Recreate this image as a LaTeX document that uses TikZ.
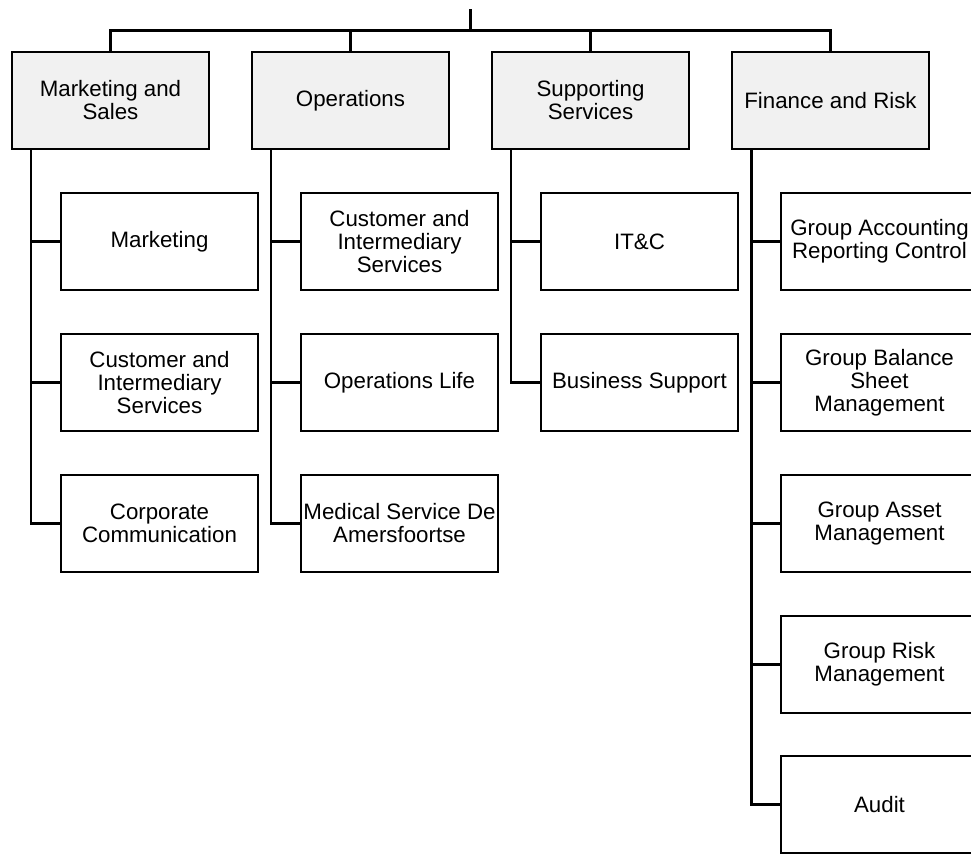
\documentclass[tikz,border=0pt]{standalone}
\usepackage{fontspec}
\setmainfont{Liberation Sans}
\definecolor{headfill}{HTML}{F1F1F1}
\begin{document}
\begin{tikzpicture}[x=1pt,y=-1pt,
  box/.style={draw=black,line width=2.3pt,rectangle,minimum width=197pt,minimum height=97pt,
    inner sep=0pt,align=center,font=\fontsize{22.3}{23}\selectfont},
  headbox/.style={box,fill=headfill},
  link/.style={draw=black,line width=2.3pt}]
\useasboundingbox (0,0) rectangle (971,855);
% top level
\node[headbox] (ms)  at (110.5,100.5) {Marketing and\\Sales};
\node[headbox] (ops) at (350.5,100.5) {Operations};
\node[headbox] (sup) at (590.5,100.5) {Supporting\\Services};
\node[headbox] (fr)  at (830.5,100.5) {Finance and Risk};
% marketing children
\node[box] (mk)  at (159.5,241.5) {Marketing};
\node[box] (mci) at (159.5,382.5) {Customer and\\Intermediary\\Services};
\node[box] (mcc) at (159.5,523.5) {Corporate\\Communication};
% operations children
\node[box] (oci) at (399.5,241.5) {Customer and\\Intermediary\\Services};
\node[box] (ol)  at (399.5,382.5) {Operations Life};
\node[box] (om)  at (399.5,523.5) {Medical Service De\\Amersfoortse};
% supporting children
\node[box] (it)  at (639.5,241.5) {IT\&C};
\node[box] (bs)  at (639.5,382.5) {Business Support};
% finance children
\node[box] (ga)  at (879.5,241.5) {Group Accounting\\Reporting Control};
\node[box] (gb)  at (879.5,382.5) {Group Balance\\Sheet\\Management};
\node[box] (gam) at (879.5,523.5) {Group Asset\\Management};
\node[box] (gr)  at (879.5,664.5) {Group Risk\\Management};
\node[box] (au)  at (879.5,804.5) {Audit};
% top connectors
\coordinate (rt) at (470.5,9);
\coordinate (bar) at (470.5,30.5);
\draw[link] (rt) -- (bar);
\draw[link] (ms.north) |- (bar) -| (fr.north);
\draw[link] (ops.north) |- (bar);
\draw[link] (sup.north) |- (bar);
% spines
\draw[link] ([xshift=-79.5pt]ms.south) |- (mk.west);
\draw[link] ([xshift=-79.5pt]ms.south) |- (mci.west);
\draw[link] ([xshift=-79.5pt]ms.south) |- (mcc.west);
\draw[link] ([xshift=-79.5pt]ops.south) |- (oci.west);
\draw[link] ([xshift=-79.5pt]ops.south) |- (ol.west);
\draw[link] ([xshift=-79.5pt]ops.south) |- (om.west);
\draw[link] ([xshift=-79.5pt]sup.south) |- (it.west);
\draw[link] ([xshift=-79.5pt]sup.south) |- (bs.west);
\draw[link] ([xshift=-79pt]fr.south) |- (ga.west);
\draw[link] ([xshift=-79pt]fr.south) |- (gb.west);
\draw[link] ([xshift=-79pt]fr.south) |- (gam.west);
\draw[link] ([xshift=-79pt]fr.south) |- (gr.west);
\draw[link] ([xshift=-79pt]fr.south) |- (au.west);
\end{tikzpicture}
\end{document}
